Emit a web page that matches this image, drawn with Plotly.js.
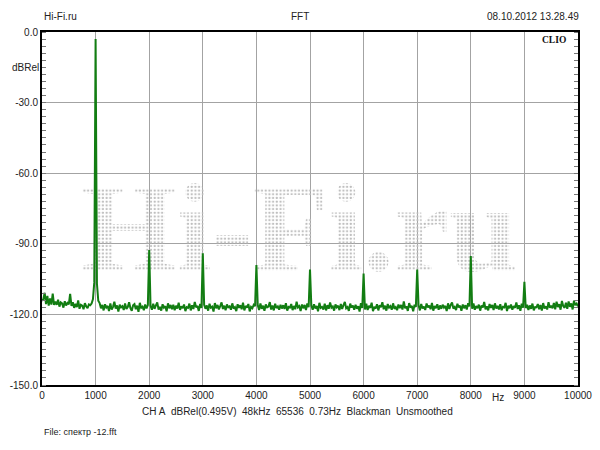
<!DOCTYPE html>
<html>
<head>
<meta charset="utf-8">
<script src="https://cdn.plot.ly/plotly-3.0.1.min.js"></script>
<style>html,body{margin:0;padding:0;background:#fff;}#chart{width:600px;height:450px;}</style>
</head>
<body>
<div id="chart"></div>
<script>
// ---- data ----
const binStepHz = 25; // spacing of the sampled spectrum points
const noiseLevels = [
  -114.2,-113.5,-110.8,-115.6,-112.1,-116.3,-113.2,-115.8,-111.2,-116.0,-114.6,-115.9,-113.8,-116.7,-114.9,-115.3,-117.1,-114.4,-116.2,-115.1,
  -115.7,-111.3,-116.4,-114.8,-117.2,-115.5,-116.9,-114.1,-117.6,-115.9,-116.3,-117.8,-115.2,-116.6,-117.3,-115.8,-116.1,-115.4,-113.6,-106.5,
  -110.0,-107.0,-114.2,-115.2,-117.4,-116.0,-118.3,-115.7,-117.1,-116.4,-118.6,-115.3,-117.9,-116.8,-114.6,-117.5,-116.2,-118.8,-115.9,-117.0,
  -116.5,-118.1,-115.4,-117.7,-116.9,-114.8,-117.3,-118.5,-116.1,-115.6,-117.8,-116.3,-118.9,-115.1,-117.2,-116.7,-118.2,-115.8,-117.5,-116.0,
  -117.0,-116.4,-118.0,-115.5,-117.6,-116.2,-114.9,-117.9,-116.8,-118.4,-115.7,-117.1,-116.5,-118.7,-115.3,-117.4,-116.0,-117.8,-115.9,-118.2,
  -116.3,-117.5,-115.0,-118.1,-116.6,-117.3,-115.8,-118.6,-116.9,-117.2,-115.4,-118.3,-116.1,-117.7,-114.7,-117.0,-116.4,-118.5,-115.6,-117.3,
  -116.8,-115.9,-117.6,-116.2,-118.4,-115.5,-117.1,-116.7,-118.8,-115.2,-117.4,-116.0,-117.9,-116.5,-114.9,-117.7,-116.3,-118.2,-115.8,-117.0,
  -116.6,-118.0,-115.3,-117.5,-116.9,-118.6,-115.7,-117.2,-116.1,-117.8,-115.0,-118.3,-116.4,-117.1,-115.6,-118.7,-116.8,-117.4,-115.9,-116.5,
  -117.2,-116.0,-118.1,-115.4,-117.6,-116.3,-118.5,-115.8,-117.0,-116.7,-114.8,-117.9,-116.2,-118.3,-115.5,-117.3,-116.6,-118.0,-115.9,-117.5,
  -116.1,-117.7,-115.2,-118.4,-116.8,-117.1,-115.6,-118.2,-116.4,-117.8,-114.6,-117.0,-116.5,-118.6,-115.8,-117.4,-116.0,-118.1,-115.3,-116.9,
  -117.3,-116.2,-118.0,-115.7,-117.5,-116.4,-118.7,-115.1,-117.2,-116.8,-117.9,-115.5,-118.3,-116.1,-117.6,-114.9,-117.1,-116.6,-118.4,-115.8,
  -117.0,-116.3,-118.2,-115.6,-117.7,-116.0,-114.7,-117.4,-116.9,-118.5,-115.4,-117.1,-116.2,-118.0,-115.9,-117.6,-116.5,-118.8,-115.2,-117.3,
  -116.7,-117.9,-115.5,-118.1,-116.4,-117.2,-115.0,-118.6,-116.8,-117.5,-115.7,-118.3,-116.1,-117.0,-114.8,-117.8,-116.3,-118.4,-115.6,-117.1,
  -116.5,-118.0,-115.3,-117.6,-116.9,-118.2,-115.8,-117.3,-116.0,-117.9,-114.5,-117.4,-116.6,-118.5,-115.2,-117.1,-116.4,-118.7,-115.9,-116.8,
  -117.2,-116.1,-118.3,-115.6,-117.5,-116.7,-118.1,-115.4,-117.0,-116.3,-117.8,-115.1,-118.4,-116.5,-117.3,-115.7,-118.0,-116.2,-117.6,-115.9,
  -117.1,-116.4,-118.6,-115.3,-117.7,-116.0,-114.9,-117.5,-116.8,-118.2,-115.5,-117.0,-116.3,-118.5,-115.8,-117.4,-116.1,-117.9,-115.2,-116.6,
  -116.9,-117.6,-115.4,-118.0,-116.5,-117.3,-115.9,-118.4,-116.2,-117.1,-114.7,-117.8,-116.6,-118.3,-115.6,-117.2,-116.0,-118.1,-115.3,-117.5,
  -116.4,-117.9,-115.7,-118.2,-116.8,-117.0,-115.1,-118.6,-116.3,-117.4,-115.8,-118.0,-116.5,-117.2,-114.9,-117.7,-116.1,-118.5,-115.5,-117.1,
  -116.7,-117.3,-115.9,-118.1,-116.2,-117.6,-115.4,-118.3,-116.9,-117.0,-115.6,-117.8,-116.0,-118.4,-115.2,-117.5,-116.6,-117.9,-114.8,-117.2,
  -116.3,-117.4,-115.1,-117.8,-114.6,-116.9,-115.7,-118.0,-114.3,-116.5,-117.2,-115.0,-117.6,-114.5,-116.8,-115.3,-117.9,-114.2,-116.1,-115.4,
  -116.6
];
const harmonicFreqs  = [1000, 2000, 3000, 4000, 5000, 6000, 7000, 8000, 9000];
const harmonicLevels = [-3.0, -92.6, -94.0, -99.0, -100.9, -102.6, -100.9, -95.2, -106.1];

const yTickVals   = [0, -30, -60, -90, -120, -150];
const yTickLabels = ['0.0', '-30.0', '-60.0', '-90.0', '-120.0', '-150.0'];
const xTickVals   = [0, 1000, 2000, 3000, 4000, 5000, 6000, 7000, 8000, 9000, 10000];
const xTickLabels = ['0', '1000', '2000', '3000', '4000', '5000', '6000', '7000', '8000', '9000', '10000'];

const headerLeft  = 'Hi-Fi.ru';
const headerMid   = 'FFT';
const headerRight = '08.10.2012 13.28.49';
const brandText   = 'CLIO';
const yUnitText   = 'dBRel';
const xUnitText   = 'Hz';
const infoText    = 'CH A\u00a0 dBRel(0.495V)\u00a0 48kHz\u00a0 65536\u00a0 0.73Hz\u00a0 Blackman\u00a0 Unsmoothed';
const fileText    = 'File: спектр -12.fft';
const watermarkText = 'Hi-Fi.ru';

// ---- build traces ----
const freqs = noiseLevels.map((_, i) => i * binStepHz);
const levels = noiseLevels.slice();
harmonicFreqs.forEach((f, k) => { levels[Math.round(f / binStepHz)] = harmonicLevels[k]; });

const sans = 'Liberation Sans, Arial, sans-serif';
const txtColor = '#222';

const traces = [
  {
    x: [4800], y: [-88.0], mode: 'text', text: [watermarkText],
    textposition: 'middle center', cliponaxis: false, hoverinfo: 'skip', showlegend: false,
    textfont: { family: 'Liberation Serif, serif', size: 124, color: '#c8c8c8', weight: 'bold' }
  },
  {
    x: freqs, y: levels, mode: 'lines', hoverinfo: 'skip', showlegend: false,
    line: { color: '#127d12', width: 2, simplify: false }
  },
  { x: [], y: [], yaxis: 'y2', mode: 'lines', showlegend: false, hoverinfo: 'skip' }
];

const layout = {
  width: 600, height: 450,
  margin: { l: 42, r: 22, t: 32, b: 65 },
  paper_bgcolor: '#fff', plot_bgcolor: '#fff',
  showlegend: false, hovermode: false,
  font: { family: sans, size: 10, color: txtColor },
  xaxis: {
    range: [0, 10000], tickvals: xTickVals, ticktext: xTickLabels,
    showgrid: true, gridcolor: '#a3a3a3', gridwidth: 1, zeroline: false,
    showline: true, linecolor: '#000', linewidth: 2, mirror: true,
    ticks: '', tickfont: { family: sans, size: 10, color: txtColor }, fixedrange: true
  },
  yaxis: {
    range: [-150, 0], tickvals: yTickVals, ticktext: yTickLabels,
    showgrid: true, gridcolor: '#a3a3a3', gridwidth: 1, zeroline: false,
    showline: true, linecolor: '#000', linewidth: 2, mirror: true,
    ticks: '', tickfont: { family: sans, size: 10, color: txtColor },
    minor: { dtick: 3, tick0: 0, ticks: 'inside', ticklen: 4, tickcolor: '#777', tickwidth: 1, showgrid: false },
    fixedrange: true
  },
  yaxis2: {
    range: [-150, 0], overlaying: 'y', side: 'right', anchor: 'x',
    showgrid: false, zeroline: false, showticklabels: false, showline: false,
    tickvals: yTickVals, ticks: '',
    minor: { dtick: 3, tick0: 0, ticks: 'inside', ticklen: 4, tickcolor: '#777', tickwidth: 1, showgrid: false },
    fixedrange: true
  },
  annotations: [
    { text: headerLeft, xref: 'paper', yref: 'paper', x: 0, y: 1, xanchor: 'left', yanchor: 'middle', yshift: 16, xshift: 0, showarrow: false, font: { family: sans, size: 10, color: txtColor } },
    { text: headerMid, xref: 'paper', yref: 'paper', x: 0.482, y: 1, xanchor: 'center', yanchor: 'middle', yshift: 16, showarrow: false, font: { family: sans, size: 10, color: txtColor } },
    { text: headerRight, xref: 'paper', yref: 'paper', x: 1, y: 1, xanchor: 'right', yanchor: 'middle', yshift: 16, xshift: 3, showarrow: false, font: { family: sans, size: 10, color: txtColor } },
    { text: '<b>' + brandText + '</b>', xref: 'paper', yref: 'paper', x: 1, y: 1, xanchor: 'right', yanchor: 'middle', yshift: -8, xshift: -10, showarrow: false, font: { family: 'Liberation Serif, serif', size: 9.5, color: '#111' } },
    { text: yUnitText, xref: 'paper', yref: 'y', x: 0, y: -15.2, xanchor: 'right', yanchor: 'middle', xshift: -1, showarrow: false, font: { family: sans, size: 10, color: txtColor } },
    { text: xUnitText, xref: 'x', yref: 'paper', x: 8500, y: 0, xanchor: 'center', yanchor: 'top', yshift: -5, showarrow: false, font: { family: sans, size: 10, color: txtColor } },
    { text: infoText, xref: 'paper', yref: 'paper', x: 0.476, y: 0, xanchor: 'center', yanchor: 'middle', yshift: -26, showarrow: false, font: { family: sans, size: 10, color: txtColor } },
    { text: fileText, xref: 'paper', yref: 'paper', x: 0, y: 0, xanchor: 'left', yanchor: 'middle', yshift: -47, showarrow: false, font: { family: sans, size: 9, color: txtColor } }
  ]
};

Plotly.newPlot('chart', traces, layout, { staticPlot: true, displayModeBar: false }).then(function (gd) {
  // give the watermark text a dot-matrix look
  const svg = gd.querySelector('svg.main-svg');
  const ns = 'http://www.w3.org/2000/svg';
  let defs = svg.querySelector('defs');
  if (!defs) { defs = document.createElementNS(ns, 'defs'); svg.insertBefore(defs, svg.firstChild); }
  const pat = document.createElementNS(ns, 'pattern');
  pat.setAttribute('id', 'wmdots');
  pat.setAttribute('patternUnits', 'userSpaceOnUse');
  pat.setAttribute('width', '3.7');
  pat.setAttribute('height', '3.7');
  const c = document.createElementNS(ns, 'rect');
  c.setAttribute('x', '0.6'); c.setAttribute('y', '0.6');
  c.setAttribute('width', '2.2'); c.setAttribute('height', '2.2');
  c.setAttribute('rx', '0.9');
  c.setAttribute('fill', '#bdbdbd');
  pat.appendChild(c);
  defs.appendChild(pat);
  const t = gd.querySelector('.scatterlayer .trace:first-child .textpoint text');
  if (t) { t.style.fill = 'url(#wmdots)'; }
});
</script>
</body>
</html>
